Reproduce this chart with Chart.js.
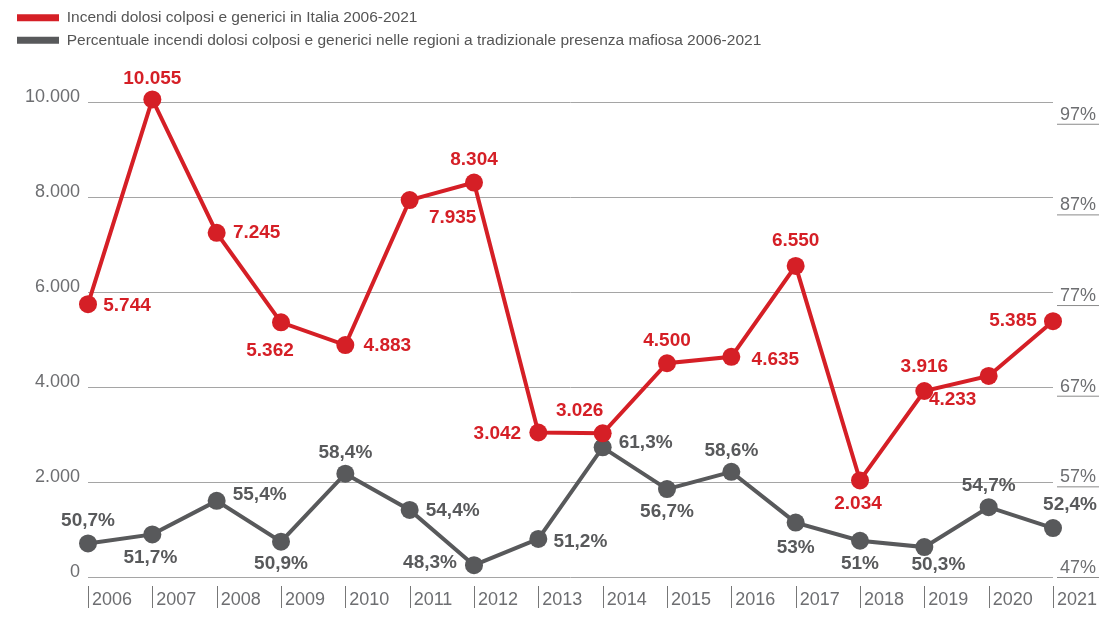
<!DOCTYPE html>
<html>
<head>
<meta charset="utf-8">
<script src="https://cdn.jsdelivr.net/npm/chart.js@4"></script>
<style>
  html, body { margin: 0; padding: 0; background: #fff; }
  #wrap { width: 1114px; height: 621px; }
</style>
</head>
<body>
<div id="wrap"><canvas id="grafico"></canvas></div>
<script>
// dati
const anni = ['2006', '2007', '2008', '2009', '2010', '2011', '2012', '2013',
  '2014', '2015', '2016', '2017', '2018', '2019', '2020', '2021'];
const incendiItalia = [5744, 10055, 7245, 5362, 4883, 7935, 8304, 3042,
  3026, 4500, 4635, 6550, 2034, 3916, 4233, 5385];
const percMafia = [50.7, 51.7, 55.4, 50.9, 58.4, 54.4, 48.3, 51.2,
  61.3, 56.7, 58.6, 53, 51, 50.3, 54.7, 52.4];
const tickSinistra = [0, 2000, 4000, 6000, 8000, 10000];
const tickDestra = [47, 57, 67, 77, 87, 97];

// posizione etichette (dx, dy rispetto al punto)
const offRosso = [[39, 2], [0, -21], [40, 0], [-11, 28], [42, 1], [43, 18], [0, -23], [-41, 1],
  [-23, -22], [0, -22], [44, 3], [0, -25], [-2, 23], [0, -24], [-36, 24], [-40, 0]];
const offGrigio = [[0, -23], [-2, 23], [43, -6], [0, 22], [0, -21], [43, 1], [-44, -2], [42, 3],
  [43, -5], [0, 23], [0, -21], [0, 25], [0, 23], [14, 18], [0, -21], [17, -23]];

const ROSSO = '#d51f26';
const GRIGIO = '#58595b';
const TESTO = '#6d6e71';
const FONT = '"Liberation Sans", Arial, sans-serif';

const fmtIt = v => v.toLocaleString('it-IT');

const etichettePlugin = {
  id: 'etichette',
  beforeInit(chart) {
    if (chart.legend) {
      const fit = chart.legend.fit;
      chart.legend.fit = function () {
        fit.call(this);
        this.height += 44;
      };
    }
  },
  afterDatasetsDraw(chart) {
    const ctx = chart.ctx;
    ctx.save();
    ctx.font = 'bold 19px ' + FONT;
    ctx.textAlign = 'center';
    ctx.textBaseline = 'middle';
    chart.getDatasetMeta(0).data.forEach((p, i) => {
      ctx.fillStyle = ROSSO;
      ctx.fillText(fmtIt(incendiItalia[i]), p.x + offRosso[i][0], p.y + offRosso[i][1]);
    });
    chart.getDatasetMeta(1).data.forEach((p, i) => {
      ctx.fillStyle = GRIGIO;
      ctx.fillText(String(percMafia[i]).replace('.', ',') + '%', p.x + offGrigio[i][0], p.y + offGrigio[i][1]);
    });
    ctx.restore();
  },
  afterDraw(chart) {
    const ctx = chart.ctx;
    const area = chart.chartArea;
    ctx.save();
    // asse destro sottolineato
    const yr = chart.scales.yR;
    ctx.font = '18px ' + FONT;
    ctx.fillStyle = TESTO;
    ctx.textAlign = 'left';
    ctx.textBaseline = 'alphabetic';
    ctx.strokeStyle = '#8a8a8a';
    ctx.lineWidth = 1;
    tickDestra.forEach(v => {
      const y = yr.getPixelForValue(v);
      ctx.fillText(v + '%', area.right + 7, y - 4);
      ctx.beginPath();
      ctx.moveTo(area.right + 4, y + 0.5);
      ctx.lineTo(area.right + 46, y + 0.5);
      ctx.stroke();
    });
    // trattini verticali anni
    const x = chart.scales.x;
    ctx.strokeStyle = '#777';
    anni.forEach((a, i) => {
      const px = Math.round(x.getPixelForValue(i)) + 0.5;
      ctx.beginPath();
      ctx.moveTo(px, area.bottom + 9);
      ctx.lineTo(px, area.bottom + 31);
      ctx.stroke();
    });
    ctx.restore();
  }
};

new Chart(document.getElementById('grafico'), {
  type: 'line',
  data: {
    labels: anni,
    datasets: [{
      label: 'Incendi dolosi colposi e generici in Italia 2006-2021',
      data: incendiItalia,
      yAxisID: 'y',
      borderColor: ROSSO,
      backgroundColor: ROSSO,
      borderWidth: 4,
      pointRadius: 9,
      pointBorderWidth: 0,
      pointBackgroundColor: ROSSO,
      tension: 0,
      clip: false
    }, {
      label: 'Percentuale incendi dolosi colposi e generici nelle regioni a tradizionale presenza mafiosa 2006-2021',
      data: percMafia,
      yAxisID: 'yR',
      borderColor: GRIGIO,
      backgroundColor: GRIGIO,
      borderWidth: 4,
      pointRadius: 9,
      pointBorderWidth: 0,
      pointBackgroundColor: GRIGIO,
      tension: 0,
      clip: false
    }]
  },
  options: {
    responsive: true,
    maintainAspectRatio: false,
    animation: false,
    layout: { padding: { left: 10, right: 61, top: 3, bottom: 0 } },
    scales: {
      x: {
        offset: false,
        grid: { display: false, drawTicks: false },
        border: { display: false },
        ticks: {
          align: 'start',
          padding: 12,
          labelOffset: 4,
          color: TESTO,
          font: { size: 18, family: FONT },
          maxRotation: 0,
          autoSkip: false
        },
        afterFit: s => { s.height = 44; }
      },
      y: {
        min: 0,
        max: 10000,
        afterBuildTicks: s => { s.ticks = tickSinistra.map(v => ({ value: v })); },
        grid: { color: '#a5a5a5', lineWidth: 1, drawTicks: false },
        border: { display: false },
        ticks: {
          padding: 8,
          labelOffset: -5,
          color: TESTO,
          font: { size: 18, family: FONT },
          callback: v => fmtIt(v)
        },
        afterFit: s => { s.width = 78; }
      },
      yR: {
        display: false,
        position: 'right',
        min: 47,
        max: 47 + 52.4,
        grid: { drawOnChartArea: false }
      }
    },
    plugins: {
      legend: {
        position: 'top',
        align: 'start',
        labels: {
          boxWidth: 42,
          boxHeight: 7,
          padding: 7,
          color: '#555',
          font: { size: 15.5, family: FONT },
          generateLabels: chart => Chart.defaults.plugins.legend.labels.generateLabels(chart)
            .map(l => Object.assign(l, { lineWidth: 0 }))
        }
      },
      tooltip: { enabled: false }
    }
  },
  plugins: [etichettePlugin]
});
</script>
</body>
</html>
